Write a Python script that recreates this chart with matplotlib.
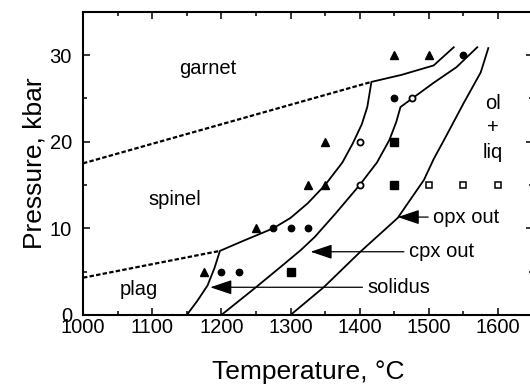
import matplotlib
matplotlib.use("Agg")
import matplotlib.pyplot as plt
from matplotlib.ticker import MultipleLocator

plt.rcParams['font.family'] = ['Liberation Sans', 'DejaVu Sans']

# ---- data ----
# dashed phase boundaries
gt_sp_T = [1000, 1417]
gt_sp_P = [17.5, 26.9]
sp_pl_T = [1000, 1198]
sp_pl_P = [4.3, 7.4]

# solidus
sol_T = [1150, 1165, 1180, 1190, 1198, 1230, 1275, 1300, 1325, 1350, 1375, 1390, 1403, 1411, 1417, 1460, 1507, 1536]
sol_P = [0.0, 1.6, 3.4, 5.4, 7.4, 8.5, 10.0, 11.2, 12.9, 15.0, 17.6, 19.8, 22.0, 24.0, 26.9, 27.7, 28.8, 30.9]
# cpx out
cpx_T = [1200, 1250, 1285, 1315, 1335, 1365, 1400, 1425, 1443, 1453, 1459, 1507, 1540, 1570]
cpx_P = [0.0, 3.2, 5.5, 7.5, 9.0, 11.7, 15.0, 17.6, 20.2, 22.3, 24.0, 26.8, 28.6, 30.9]
# opx out
opx_T = [1300, 1348, 1401, 1455, 1493, 1507, 1522, 1550, 1575, 1586]
opx_P = [0.0, 3.2, 7.3, 11.2, 15.6, 18.0, 20.2, 24.4, 28.0, 30.8]

# experimental points
tri_T = [1450, 1500, 1350, 1325, 1350, 1250, 1175]
tri_P = [30, 30, 20, 15, 15, 10, 5]
circ_T = [1550, 1450, 1275, 1300, 1325, 1200, 1225]
circ_P = [30, 25, 10, 10, 10, 5, 5]
ocirc_T = [1475, 1400, 1400]
ocirc_P = [25, 20, 15]
sq_T = [1450, 1450, 1300]
sq_P = [20, 15, 5]
osq_T = [1500, 1550, 1600]
osq_P = [15, 15, 15]

x_ticks = [1000, 1100, 1200, 1300, 1400, 1500, 1600]
y_ticks = [0, 10, 20, 30]

# ---- figure ----
fig = plt.figure(figsize=(5.30, 3.89), dpi=100)
ax = fig.add_axes([83/530, (389-315)/389, (532.6-83)/530, (315-11.7)/389])
ax.set_xlim(1000, 1650)
ax.set_ylim(0, 35)

k = 'black'
ax.plot(gt_sp_T, gt_sp_P, color=k, lw=1.6, ls=(0, (2.0, 1.0)))
ax.plot(sp_pl_T, sp_pl_P, color=k, lw=1.6, ls=(0, (2.0, 1.0)))
for T, P in [(sol_T, sol_P), (cpx_T, cpx_P), (opx_T, opx_P)]:
    ax.plot(T, P, color=k, lw=1.3, solid_joinstyle='miter')

ax.plot(tri_T, tri_P, ls='none', marker='^', ms=5.5, color=k, mec=k)
ax.plot(circ_T, circ_P, ls='none', marker='o', ms=4.6, color=k, mec=k)
ax.plot(ocirc_T, ocirc_P, ls='none', marker='o', ms=4.4, mfc='white', mec=k, mew=1.3)
ax.plot(sq_T, sq_P, ls='none', marker='s', ms=5.2, color=k, mec=k)
ax.plot(osq_T, osq_P, ls='none', marker='s', ms=4.3, mfc='white', mec=k, mew=1.1)

# region labels
fs = 14.5
ax.text(1181, 28.5, 'garnet', fontsize=fs, ha='center', va='center')
ax.text(1133, 13.3, 'spinel', fontsize=fs, ha='center', va='center')
ax.text(1081, 2.9, 'plag', fontsize=fs, ha='center', va='center')
ax.text(1593, 21.6, 'ol\n+\nliq', fontsize=fs, ha='center', va='center', linespacing=1.35)

# arrows with labels
arrows = [('opx out', 1455, 1499, 11.3),
          ('cpx out', 1329, 1464, 7.3),
          ('solidus', 1184, 1404, 3.2)]
for label, tip, tail, p in arrows:
    ax.annotate('', xy=(tip, p), xytext=(tail, p),
                arrowprops=dict(arrowstyle='-|>,head_length=0.95,head_width=0.32',
                                color=k, lw=0.9, shrinkA=0, shrinkB=0, mutation_scale=14))
    ax.text(tail + 7, p, label, fontsize=fs, ha='left', va='center')

# axes styling
ax.xaxis.set_major_locator(MultipleLocator(100))
ax.xaxis.set_minor_locator(MultipleLocator(50))
ax.yaxis.set_major_locator(MultipleLocator(10))
ax.yaxis.set_minor_locator(MultipleLocator(5))
ax.set_xticks(x_ticks)
ax.set_yticks(y_ticks)
ax.tick_params(which='both', direction='in', top=True, right=True, width=1.1, colors=k)
ax.tick_params(which='major', length=5)
ax.tick_params(which='minor', length=3)
ax.tick_params(axis='x', labelsize=14.5, pad=2)
ax.tick_params(axis='y', labelsize=14.5, pad=8)
for s in ['left', 'bottom', 'top']:
    ax.spines[s].set_linewidth(1.5)
ax.spines['right'].set_visible(False)

ax.set_xlabel('Temperature, °C', fontsize=19, labelpad=17)
ax.set_ylabel('Pressure, kbar', fontsize=19, labelpad=2)

fig.savefig('out.png', dpi=100)
